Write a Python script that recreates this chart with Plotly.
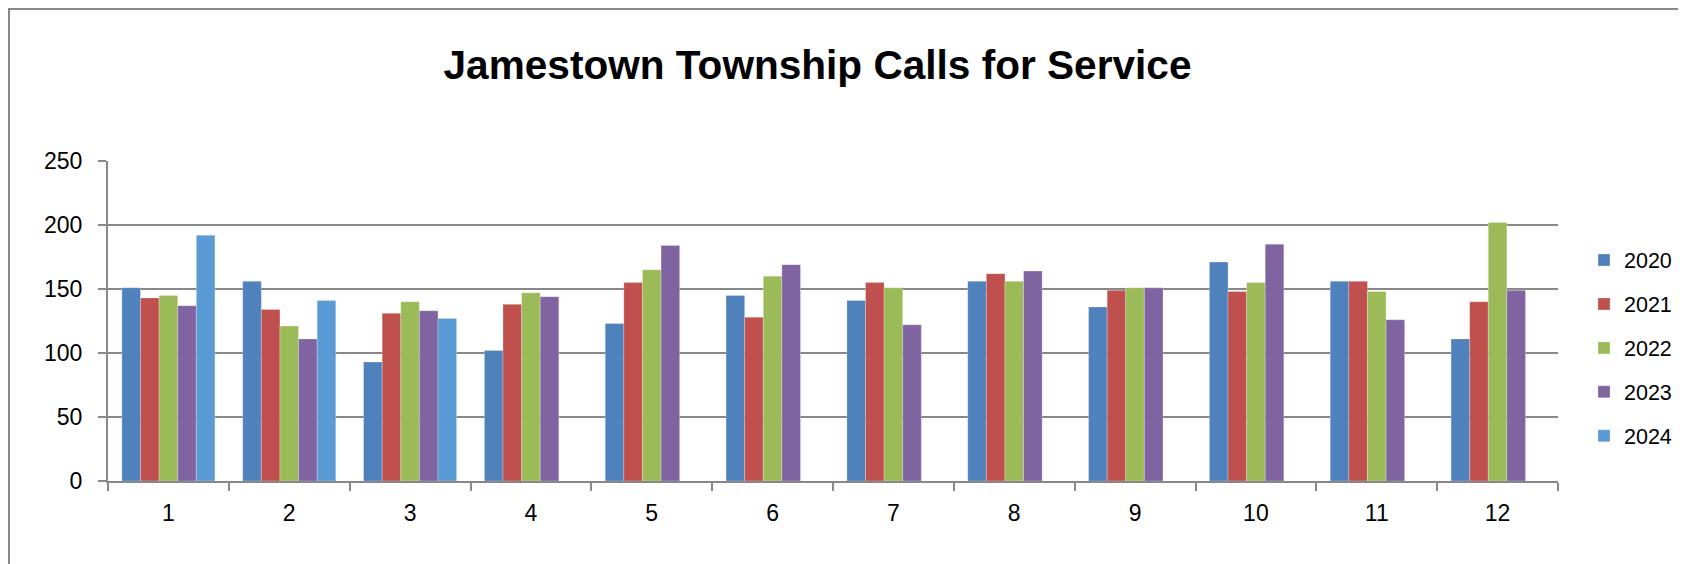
import plotly.graph_objects as go

months = ["1", "2", "3", "4", "5", "6", "7", "8", "9", "10", "11", "12"]
years = ["2020", "2021", "2022", "2023", "2024"]
v2020 = [151, 156, 93, 102, 123, 145, 141, 156, 136, 171, 156, 111]
v2021 = [143, 134, 131, 138, 155, 128, 155, 162, 149, 148, 156, 140]
v2022 = [145, 121, 140, 147, 165, 160, 151, 156, 151, 155, 148, 202]
v2023 = [137, 111, 133, 144, 184, 169, 122, 164, 151, 185, 126, 149]
v2024 = [192, 141, 127, None, None, None, None, None, None, None, None, None]
colors = ["#4F81BD", "#C0504D", "#9BBB59", "#8064A2", "#5B9BD5"]
title_text = "Jamestown Township Calls for Service"

series = [v2020, v2021, v2022, v2023, v2024]

fig = go.Figure()
for name, vals, col in zip(years, series, colors):
    fig.add_trace(go.Bar(
        x=months, y=vals, name=name, legendgroup=name,
        marker=dict(color=col, line=dict(color="rgba(255,255,255,0.5)", width=0.5)),
    ))

grid = "#888888"
W, H = 1686, 564
# page has an 8px body margin; figure coordinates = page coordinates - 8
L, T = 100, 153
plot_right, plot_bottom = 1550, 473
R, B = W - plot_right, H - plot_bottom
pw = plot_right - L
ph = plot_bottom - T

def px(x):
    return (x - L) / pw

def py(y):
    return (plot_bottom - y) / ph

fig.update_layout(
    width=W, height=H,
    margin=dict(l=L, r=R, t=T, b=B, pad=0),
    paper_bgcolor="white", plot_bgcolor="white",
    barmode="group", bargap=0.23, bargroupgap=0,
    font=dict(family="Liberation Sans, Arial, sans-serif", color="black"),
    title=dict(text="<b>" + title_text + "</b>", x=809.5 / W, xanchor="center",
               xref="container", yref="container", y=1 - 57 / H, yanchor="middle",
               font=dict(size=40.6, color="black")),
    legend=dict(x=px(1576), xanchor="left", y=py(340), yanchor="middle",
                font=dict(size=21.5, color="black"), tracegroupgap=13,
                bgcolor="rgba(0,0,0,0)", itemclick=False),
    xaxis=dict(type="category", tickson="boundaries", ticks="outside", ticklen=8,
               tickwidth=2, tickcolor=grid, showline=True, linecolor=grid, linewidth=2,
               showgrid=False, tickfont=dict(size=23), ticklabelstandoff=10),
    yaxis=dict(range=[0, 250], dtick=50, ticks="outside", ticklen=8, tickwidth=2,
               tickcolor=grid, showline=True, linecolor=grid, linewidth=2,
               showgrid=True, gridcolor=grid, gridwidth=2, zeroline=False,
               tickfont=dict(size=23), ticklabelstandoff=11),
    shapes=[
        dict(type="line", xref="paper", yref="paper",
             x0=px(1), x1=px(1), y0=py(H), y1=py(0),
             line=dict(color=grid, width=2)),
        dict(type="line", xref="paper", yref="paper",
             x0=px(0), x1=px(W), y0=py(1), y1=py(1),
             line=dict(color=grid, width=2)),
    ],
)

fig.write_html("out.html")
